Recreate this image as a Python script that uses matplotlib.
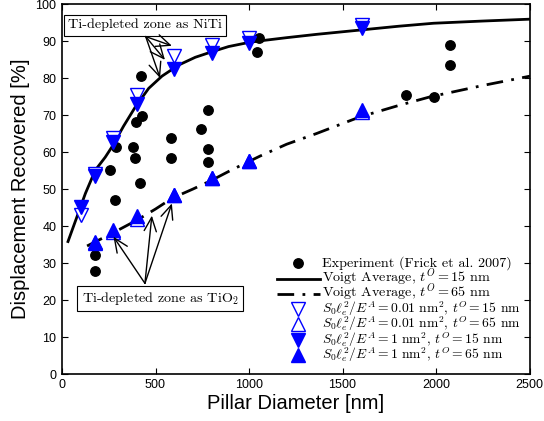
import matplotlib
matplotlib.use("Agg")
import matplotlib.pyplot as plt
from matplotlib.lines import Line2D

plt.rcParams['mathtext.fontset'] = 'cm'
plt.rcParams['axes.formatter.use_mathtext'] = True

# Experimental data (Frick et al. 2007)
exp_x = [176, 176, 256, 283, 287, 379, 388, 397, 415, 424, 427, 582, 582,
         742, 782, 782, 782, 1043, 1054, 1836, 1985, 2071, 2071]
exp_y = [32.2, 27.8, 55.0, 46.9, 61.4, 61.4, 58.5, 68.0, 51.7, 80.5, 69.6,
         63.8, 58.5, 66.1, 71.4, 60.8, 57.4, 86.9, 90.8, 75.3, 74.9, 88.9, 83.6]

# Voigt average curves
voigt15_x = [32, 80, 125, 178, 231, 267, 329, 392, 463, 534, 623, 712, 801,
             890, 997, 1068, 1200, 1360, 1600, 1800, 1985, 2250, 2500]
voigt15_y = [35.8, 42.5, 48.8, 55.1, 58.6, 61.4, 67.0, 72.2, 77.2, 80.5, 83.5,
             85.6, 87.1, 88.5, 89.6, 90.1, 90.9, 91.8, 93.0, 94.0, 94.8, 95.4, 95.9]
voigt65_x = [134, 267, 401, 500, 588, 700, 801, 900, 997, 1058, 1200, 1360,
             1592, 1800, 1966, 2250, 2500]
voigt65_y = [34.6, 38.0, 41.6, 44.6, 47.5, 50.0, 52.4, 55.0, 57.4, 58.9, 62.1,
             65.0, 69.5, 72.6, 74.9, 78.0, 80.5]

# Simulation results
sim15_x = [100, 175, 275, 400, 600, 800, 1000, 1600]
open15_y = [43.0, 54.0, 63.9, 75.4, 85.9, 88.9, 90.9, 94.2]
fill15_y = [45.0, 53.5, 62.6, 73.1, 82.3, 86.7, 89.4, 93.4]
sim65_x = [175, 275, 400, 600, 800, 1000, 1600]
open65_y = [35.5, 38.3, 42.0, 48.3, 53.0, 57.5, 70.7]
fill65_y = [35.8, 38.9, 42.7, 48.5, 53.1, 57.7, 71.4]

labels = [
    'Experiment (Frick et al. 2007)',
    r'Voigt Average, $t^O = 15$ nm',
    r'Voigt Average, $t^O = 65$ nm',
    r'$S_0\ell_e^2/E^A = 0.01\ \mathrm{nm}^2$, $t^O = 15$ nm',
    r'$S_0\ell_e^2/E^A = 0.01\ \mathrm{nm}^2$, $t^O = 65$ nm',
    r'$S_0\ell_e^2/E^A = 1\ \mathrm{nm}^2$, $t^O = 15$ nm',
    r'$S_0\ell_e^2/E^A = 1\ \mathrm{nm}^2$, $t^O = 65$ nm',
]

xticks = [0, 500, 1000, 1500, 2000, 2500]
yticks = [0, 10, 20, 30, 40, 50, 60, 70, 80, 90, 100]

fig = plt.figure(figsize=(5.44, 4.21), dpi=100)
ax = fig.add_axes([62/544, 1-374/421, 468/544, 370/421])

blue = '#0000ff'
h_exp, = ax.plot(exp_x, exp_y, 'o', color='k', ms=6.8, mec='k', zorder=3)
h_v15, = ax.plot(voigt15_x, voigt15_y, '-', color='k', lw=2, zorder=2)
h_v65, = ax.plot(voigt65_x, voigt65_y, color='k', lw=2, ls=(0, (6, 3, 1, 3)), zorder=2)
h_o15, = ax.plot(sim15_x, open15_y, 'v', mfc='white', mec=blue, ms=9.5, mew=1.0, zorder=4)
h_o65, = ax.plot(sim65_x, open65_y, '^', mfc='white', mec=blue, ms=9.5, mew=1.0, zorder=4)
h_f15, = ax.plot(sim15_x, fill15_y, 'v', color=blue, ms=9.5, zorder=5)
h_f65, = ax.plot(sim65_x, fill65_y, '^', color=blue, ms=9.5, zorder=5)
handles = [h_exp, h_v15, h_v65, h_o15, h_o65, h_f15, h_f65]

ax.set_xlim(0, 2500)
ax.set_ylim(0, 100)
ax.set_xticks(xticks)
ax.set_yticks(yticks)
ax.tick_params(direction='in', top=True, right=True, length=4, labelsize=9, pad=3)
for lab in ax.get_xticklabels() + ax.get_yticklabels():
    lab.set_fontfamily('Liberation Sans')
for s in ax.spines.values():
    s.set_linewidth(1.2)

ax.set_xlabel('Pillar Diameter [nm]', fontsize=14.5, fontfamily='Liberation Sans', labelpad=2)
ax.set_ylabel('Displacement Recovered [%]', fontsize=14.5, fontfamily='Liberation Sans', labelpad=4)

# Frameless legend with evenly spaced rows (as in the reference)
row0, row_step = 0.2992, 0.0413
line_x0, line_x1, mark_x, text_x = 0.4594, 0.5513, 0.5043, 0.5556
base_off = 3.5 / 370
for i, (h, lab) in enumerate(zip(handles, labels)):
    yc = row0 - i * row_step
    key = Line2D([], [])
    key.update_from(h)
    key.set_transform(ax.transAxes)
    key.set_zorder(7)
    if h.get_linestyle() not in ('None', '', ' '):
        key.set_data([line_x0, line_x1], [yc, yc])
    else:
        key.set_data([mark_x], [yc])
    ax.add_line(key)
    fs = 10.2 if i < 3 else 9.8
    ax.text(text_x, yc - base_off, lab, transform=ax.transAxes, family='cmr10',
            fontsize=fs, va='baseline', ha='left', zorder=7)

box = dict(boxstyle='square,pad=0.3', fc='white', ec='k', lw=0.8)
arrow = dict(arrowstyle='->,head_length=0.5,head_width=0.22', lw=1.0, color='k',
             mutation_scale=20, shrinkA=0, shrinkB=0)

ax.text(33, 94.3, 'Ti-depleted zone as NiTi', fontsize=10.2, family='cmr10',
        va='center', ha='left', bbox=box, zorder=6)
for tx, ty in [(587, 88.7), (550, 84.9), (524, 80.0)]:
    ax.annotate('', xy=(tx, ty), xytext=(447, 91.2), arrowprops=arrow, zorder=6)

ax.text(105, 20.4, r'Ti-depleted zone as TiO$_2$', fontsize=10.2, family='cmr10',
        va='center', ha='left', bbox=box, zorder=6)
for tx, ty in [(275, 37.1), (480, 42.8), (587, 46.1)]:
    ax.annotate('', xy=(tx, ty), xytext=(443, 24.5), arrowprops=arrow, zorder=6)

fig.savefig('out.png', dpi=100)
